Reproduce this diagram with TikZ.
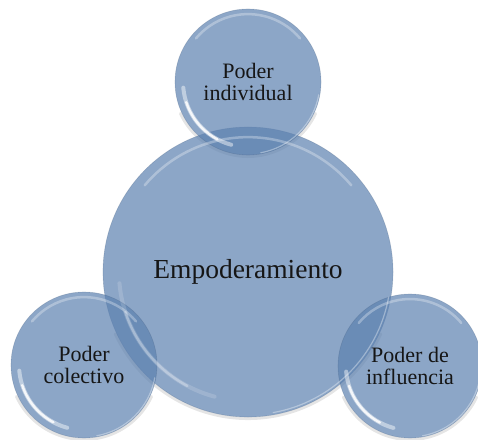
\documentclass[tikz,border=0pt]{standalone}
\usepackage{fontspec}
\setmainfont{Liberation Serif}
\definecolor{bubble}{RGB}{92,129,176}
\definecolor{txt}{RGB}{22,22,22}
\tikzset{
  bub/.style={circle, inner sep=0pt, fill=bubble, fill opacity=0.7, text opacity=1,
    draw=bubble!70!black, draw opacity=0.25, line width=0.6pt, text=txt, align=center},
  smalltxt/.style={font=\fontsize{22}{22}\selectfont},
  bigtxt/.style={font=\fontsize{27.5}{30}\selectfont},
  shade/.style={black, opacity=0.10, line width=3pt, line cap=round},
}
% #1 node, #2 radius, #3 strength of the lower-left streak
\newcommand\glassfx[3]{%
  \begin{scope}[shift={(#1.center)}]
    \draw[white, opacity=.3, line width=2.5pt, line cap=round]
      (40:{0.93*#2}) arc[start angle=40, end angle=140, radius={0.93*#2}];
    \draw[white, opacity={0.45*#3}, line width=4pt, line cap=round]
      (185:{0.89*#2}) arc[start angle=185, end angle=255, radius={0.89*#2}];
    \draw[white, opacity={0.85*#3}, line width=2.4pt, line cap=round]
      (198:{0.89*#2}) arc[start angle=198, end angle=242, radius={0.89*#2}];
    \draw[white, opacity=.35, line width=1.2pt]
      (280:{0.985*#2}) arc[start angle=280, end angle=350, radius={0.985*#2}];
  \end{scope}}
\newcommand\shadowfx[2]{%
  \begin{scope}[shift={(#1)}]
    \draw[shade] (205:{#2+1.5}) arc[start angle=205, end angle=335, radius={#2+1.5}];
  \end{scope}}
\begin{document}
\begin{tikzpicture}[x=1pt,y=1pt]
\useasboundingbox (0,0) rectangle (478,439);
\fill[white] (0,0) rectangle (478,439);
\coordinate (cemp) at (248,167);
\coordinate (ctop) at (248,357);
\coordinate (cleft) at (84,74);
\coordinate (cright) at (410,73);
\shadowfx{cemp}{145}
\shadowfx{ctop}{73}
\shadowfx{cleft}{73}
\shadowfx{cright}{72}
\node[bub, minimum size=290pt, bigtxt] (emp) at (cemp) {Empoderamiento};
\node[bub, minimum size=146pt, smalltxt] (top) at (ctop) {Poder\\individual};
\node[bub, minimum size=146pt, smalltxt] (left) at (cleft) {Poder\\colectivo};
\node[bub, minimum size=144pt, smalltxt] (right) at (cright) {Poder de\\influencia};
\glassfx{emp}{145}{0.35}
\glassfx{top}{73}{1}
\glassfx{left}{73}{1}
\glassfx{right}{72}{1}
\end{tikzpicture}
\end{document}
